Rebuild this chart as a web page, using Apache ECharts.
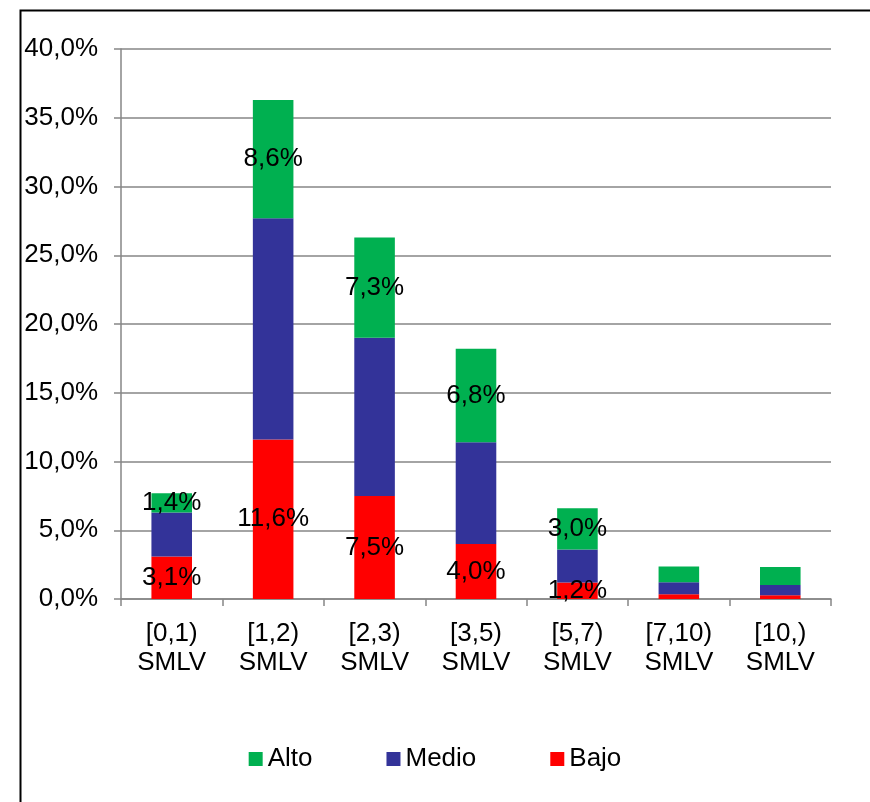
<!DOCTYPE html>
<html>
<head>
<meta charset="utf-8">
<script src="https://cdn.jsdelivr.net/npm/echarts@6/dist/echarts.min.js"></script>
<style>html,body{margin:0;padding:0;background:#fff;}#c{width:870px;height:802px;}</style>
</head>
<body>
<div id="c"></div>
<script>
const categories = ['[0,1)\nSMLV', '[1,2)\nSMLV', '[2,3)\nSMLV', '[3,5)\nSMLV', '[5,7)\nSMLV', '[7,10)\nSMLV', '[10,)\nSMLV'];
const bajo  = [3.1, 11.6, 7.5, 4.0, 1.2, 0.35, 0.27];
const medio = [3.2, 16.1, 11.5, 7.4, 2.4, 0.87, 0.75];
const alto  = [1.4, 8.6, 7.3, 6.8, 3.0, 1.15, 1.31];
const labelShown = [true, true, true, true, true, false, false];
const legendNames = ['Alto', 'Medio', 'Bajo'];

const FONT = '"Liberation Sans", Arial, sans-serif';
const fmt = v => v.toFixed(1).replace('.', ',') + '%';
const withLabels = arr => arr.map((v, i) => ({ value: v, label: { show: labelShown[i] } }));

const chart = echarts.init(document.getElementById('c'));
chart.setOption({
  animation: false,
  backgroundColor: '#fff',
  textStyle: { fontFamily: FONT },
  graphic: [{
    type: 'rect', left: 18, top: 8, shape: { x: 0, y: 0, width: 900, height: 850 },
    style: { fill: 'none', stroke: '#000', lineWidth: 2 }, silent: true, z: 100
  }],
  grid: { left: 121, right: 39, top: 49, bottom: 203 },
  legend: {
    data: legendNames, bottom: 25, left: 'center', itemWidth: 14, itemHeight: 14, itemGap: 74,
    icon: 'rect', textStyle: { fontSize: 26, color: '#000', fontFamily: FONT }
  },
  xAxis: {
    type: 'category', data: categories,
    axisLine: { lineStyle: { color: '#868686', width: 1.5 } },
    axisTick: { show: true, alignWithLabel: false, length: 7, lineStyle: { color: '#868686', width: 1.5 } },
    axisLabel: { color: '#000', fontSize: 26, lineHeight: 29, margin: 20, fontFamily: FONT, interval: 0 }
  },
  yAxis: {
    type: 'value', min: 0, max: 40, interval: 5,
    axisLine: { show: true, lineStyle: { color: '#868686', width: 1.5 } },
    axisTick: { show: true, length: 7, lineStyle: { color: '#868686', width: 1.5 } },
    splitLine: { lineStyle: { color: '#868686', width: 1.5 } },
    axisLabel: { color: '#000', fontSize: 26, margin: 23, fontFamily: FONT, formatter: fmt }
  },
  series: [
    { name: 'Bajo', type: 'bar', stack: 't', data: withLabels(bajo), barWidth: '40%',
      itemStyle: { color: '#FF0000' },
      label: { position: 'inside', color: '#000', fontSize: 26, fontFamily: FONT, formatter: p => fmt(p.value), textBorderWidth: 0 } },
    { name: 'Medio', type: 'bar', stack: 't', data: medio, barWidth: '40%',
      itemStyle: { color: '#333399' }, label: { show: false } },
    { name: 'Alto', type: 'bar', stack: 't', data: withLabels(alto), barWidth: '40%',
      itemStyle: { color: '#00B050' },
      label: { position: 'inside', color: '#000', fontSize: 26, fontFamily: FONT, formatter: p => fmt(p.value), textBorderWidth: 0 } }
  ]
});
</script>
</body>
</html>
